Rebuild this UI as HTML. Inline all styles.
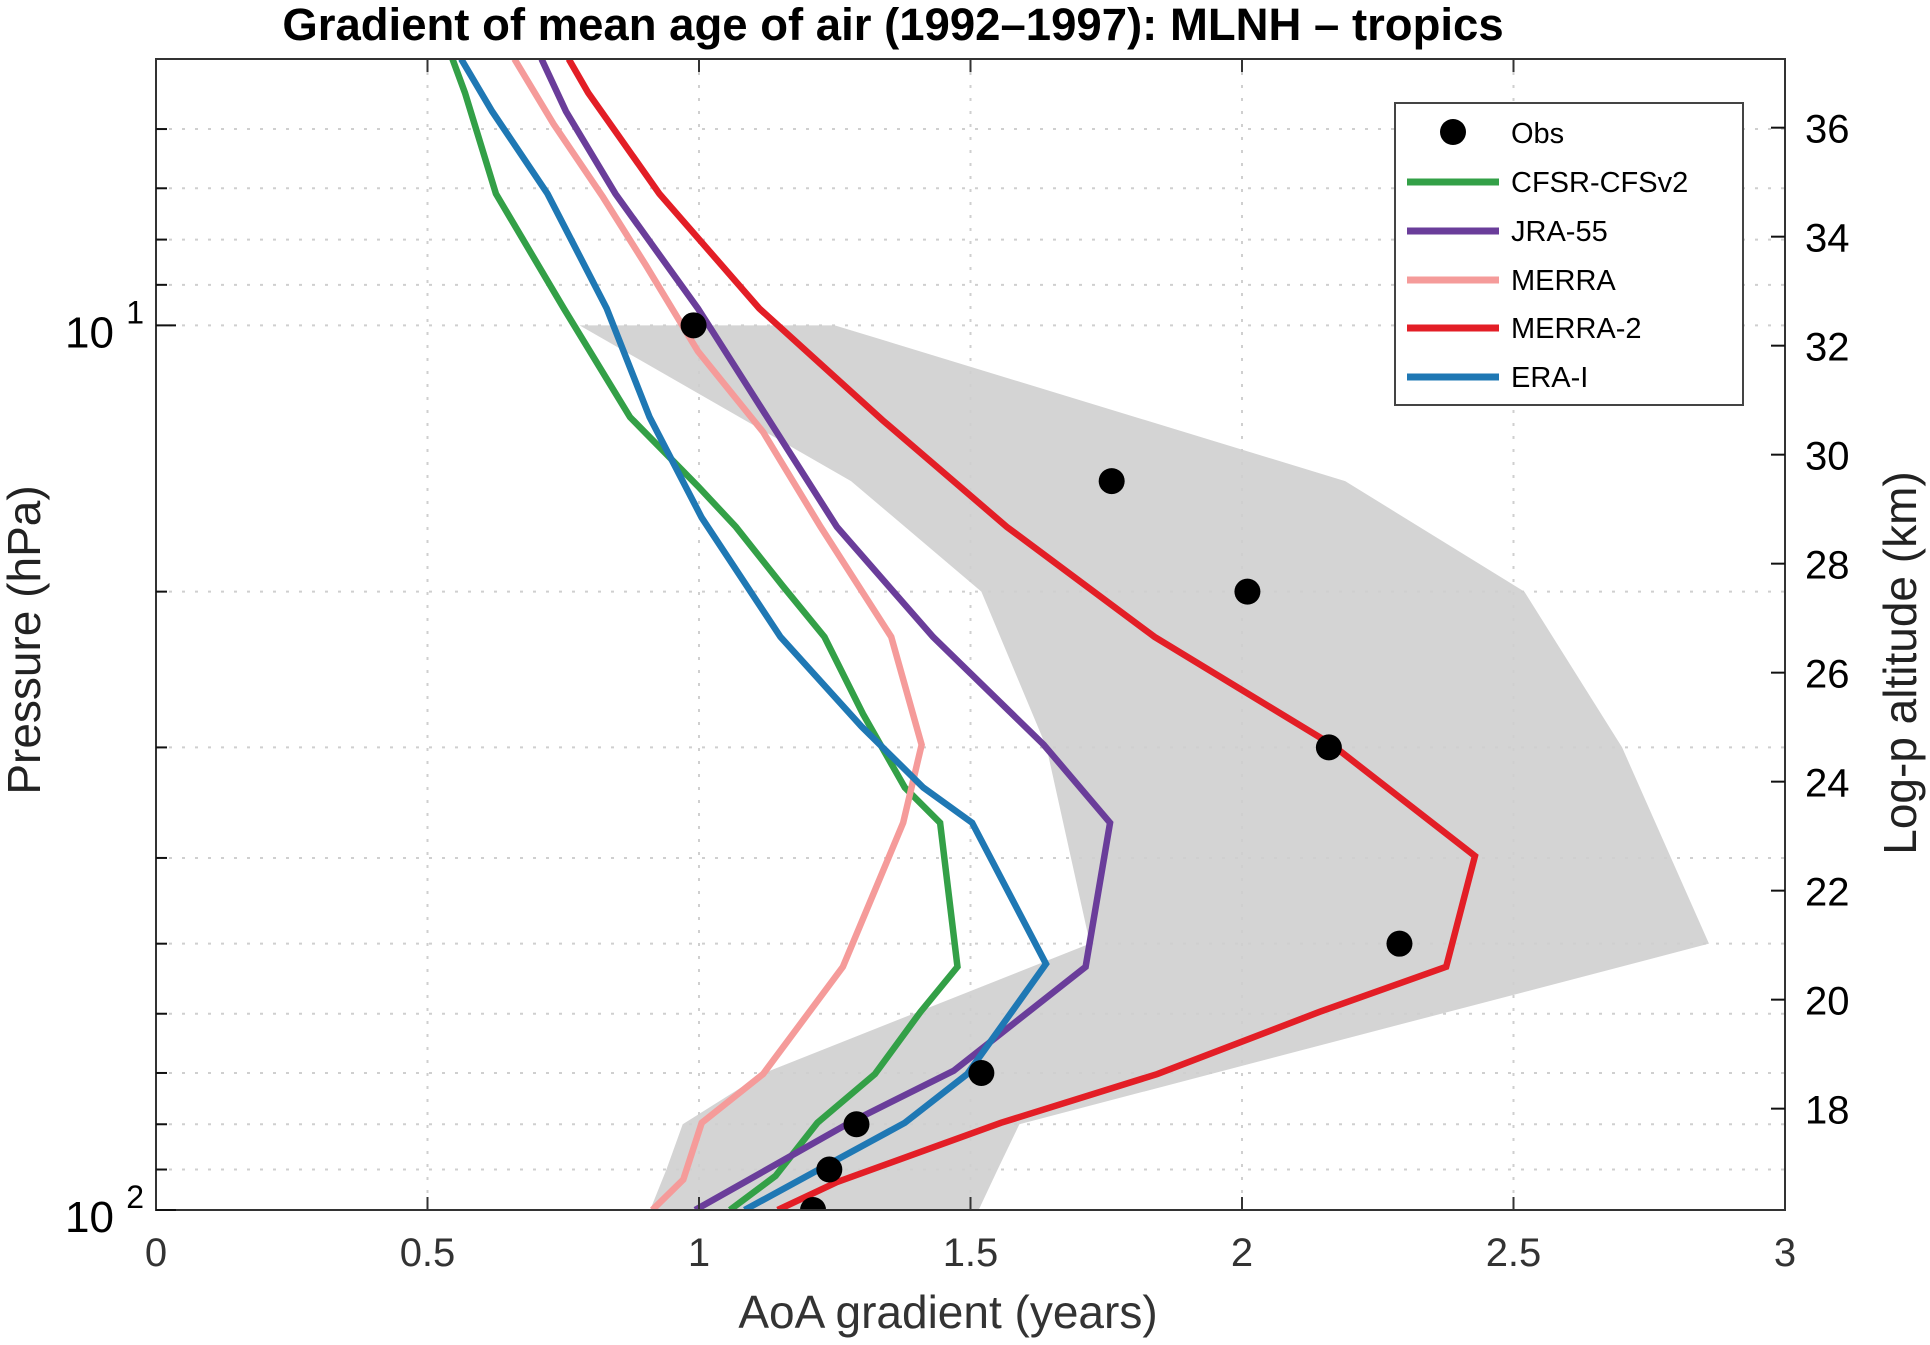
<!DOCTYPE html>
<html><head><meta charset="utf-8"><style>
html,body{margin:0;padding:0;background:#fff;}
svg{display:block;font-family:"Liberation Sans",Arial,sans-serif;}
</style></head><body>
<svg id="chart" width="1930" height="1345" viewBox="0 0 1930 1345" xmlns="http://www.w3.org/2000/svg">
<text x="893" y="40" text-anchor="middle" font-size="45.5" font-weight="bold">Gradient of mean age of air (1992–1997): MLNH – tropics</text>
<g id="plot"></g>
<text x="948" y="1328" text-anchor="middle" font-size="46" fill="#333">AoA gradient (years)</text>
<text transform="translate(40,640) rotate(-90)" text-anchor="middle" font-size="46" fill="#222">Pressure (hPa)</text>
<text transform="translate(1916,663) rotate(-90)" text-anchor="middle" font-size="46" fill="#222">Log-p altitude (km)</text>
<g>
<rect x="1395" y="103" width="348" height="302" fill="#fff" stroke="#444" stroke-width="2"/>
<circle cx="1453" cy="132" r="13" fill="#000"/>
<text x="1511" y="143" font-size="29">Obs</text>
<line x1="1407" y1="182" x2="1499" y2="182" stroke="#33a047" stroke-width="7"/>
<text x="1511" y="192" font-size="29">CFSR-CFSv2</text>
<line x1="1407" y1="231" x2="1499" y2="231" stroke="#6a3d9a" stroke-width="7"/>
<text x="1511" y="241" font-size="29">JRA-55</text>
<line x1="1407" y1="280" x2="1499" y2="280" stroke="#f59b9a" stroke-width="7"/>
<text x="1511" y="290" font-size="29">MERRA</text>
<line x1="1407" y1="328" x2="1499" y2="328" stroke="#e31e26" stroke-width="7"/>
<text x="1511" y="338" font-size="29">MERRA-2</text>
<line x1="1407" y1="377" x2="1499" y2="377" stroke="#1f78b4" stroke-width="7"/>
<text x="1511" y="387" font-size="29">ERA-I</text>
</g>
</svg>
<script>
const obsP=[10,15,20,30,50,70,80,90,100];
const obsX=[0.99,1.76,2.01,2.16,2.29,1.52,1.29,1.24,1.21];
const shadeLo=[0.78,1.28,1.52,1.64,1.72,1.12,0.97,0.94,0.91];
const shadeHi=[1.25,2.19,2.52,2.70,2.86,1.95,1.59,1.55,1.515];
const cfsrX=[0.546,0.569,0.626,0.751,0.873,0.998,1.068,1.154,1.231,1.302,1.379,1.444,1.476,1.408,1.324,1.218,1.141,1.057];
const cfsrP=[5,5.46,7.1,9.57,12.7,15.2,16.9,19.7,22.5,27.5,33.3,36.5,53.1,59.7,70.2,79.7,91.5,100];
const jraX=[0.710,0.755,0.846,0.998,1.129,1.254,1.431,1.635,1.757,1.712,1.469,1.277,1.084,0.993];
const jraP=[5,5.73,7.1,9.57,12.8,16.9,22.5,29.8,36.5,53.1,69.6,79.7,93,100];
const merraX=[0.660,0.732,0.823,0.902,0.998,1.118,1.224,1.354,1.410,1.376,1.265,1.118,1.005,0.971,0.914];
const merraP=[5,5.92,7.16,8.55,10.7,13.2,16.9,22.5,29.8,36.5,53.1,70.2,79.7,92.4,100];
const merra2X=[0.760,0.796,0.927,1.111,1.338,1.567,1.839,2.166,2.429,2.376,2.143,1.844,1.556,1.254,1.145];
const merra2P=[5,5.46,7.1,9.57,12.8,16.9,22.5,29.8,39.8,53.1,59.7,70.2,79.7,93,100];
const eraX=[0.562,0.619,0.721,0.830,0.909,1.005,1.150,1.299,1.413,1.503,1.639,1.576,1.494,1.379,1.231,1.084];
const eraP=[5,5.73,7.1,9.57,12.7,16.5,22.5,28.4,33.3,36.5,52.7,59.7,70.2,79.7,89.3,100];
const xTicks=[0,0.5,1,1.5,2,2.5,3];
const xTickLabels=["0","0.5","1","1.5","2","2.5","3"];
const pMinor=[6,7,8,9,10,20,30,40,50,60,70,80,90];
const kmTicks=[18,20,22,24,26,28,30,32,34,36];

const L=156,R=1785,T=59,B=1210,PT=5,PB=100;
const sx=v=>L+(v/3)*(R-L);
const sy=p=>T+(Math.log10(p)-Math.log10(PT))/(Math.log10(PB)-Math.log10(PT))*(B-T);
const NS='http://www.w3.org/2000/svg';
const plot=document.getElementById('plot');
function mk(tag,attrs,parent){const e=document.createElementNS(NS,tag);for(const k in attrs)e.setAttribute(k,attrs[k]);(parent||plot).appendChild(e);return e;}

const defs=mk('defs',{});
const cp=mk('clipPath',{id:'clip'},defs);
mk('rect',{x:L,y:T,width:R-L,height:B-T},cp);
const g=mk('g',{'clip-path':'url(#clip)'});

let pts=[];
for(let i=0;i<obsP.length;i++)pts.push(sx(shadeHi[i])+','+sy(obsP[i]));
for(let i=obsP.length-1;i>=0;i--)pts.push(sx(shadeLo[i])+','+sy(obsP[i]));
const sh=mk('polygon',{points:pts.join(' '),fill:'#d4d4d4'},g);



xTicks.forEach(v=>{if(v>0&&v<3){const l=mk('line',{x1:sx(v),x2:sx(v),y1:T,y2:B,stroke:'#cfcfcf','stroke-width':2,'stroke-dasharray':'3 10'},g);

}});
pMinor.forEach(p=>{const l=mk('line',{x1:L,x2:R,y1:sy(p),y2:sy(p),stroke:'#cfcfcf','stroke-width':2,'stroke-dasharray':'3 10'},g);

});

function series(xs,ps,color,name){const d=xs.map((x,i)=>(i?'L':'M')+sx(x)+','+sy(ps[i])).join('');
const e=mk('path',{d:d,fill:'none',stroke:color,'stroke-width':6.5,'stroke-linejoin':'miter'},g);

}
series(cfsrX,cfsrP,'#33a047','cfsr-line');
series(jraX,jraP,'#6a3d9a','jra55-line');
series(merraX,merraP,'#f59b9a','merra-line');
series(merra2X,merra2P,'#e31e26','merra2-line');
series(eraX,eraP,'#1f78b4','erai-line');

obsP.forEach((p,i)=>{const c=mk('circle',{cx:sx(obsX[i]),cy:sy(p),r:13,fill:'#000'},g);

});

const ax=mk('rect',{x:L,y:T,width:R-L,height:B-T,fill:'none',stroke:'#333','stroke-width':2});


xTicks.forEach((v,i)=>{
mk('line',{x1:sx(v),x2:sx(v),y1:B,y2:B-13,stroke:'#333','stroke-width':2});
mk('line',{x1:sx(v),x2:sx(v),y1:T,y2:T+13,stroke:'#333','stroke-width':2});
const t=mk('text',{x:sx(v),y:B+56,'text-anchor':'middle','font-size':40,fill:'#333'});
t.textContent=xTickLabels[i];

});
pMinor.forEach(p=>{const len=(p===10||p===100)?20:11;
mk('line',{x1:L,x2:L+len,y1:sy(p),y2:sy(p),stroke:'#111','stroke-width':2});});
mk('line',{x1:L,x2:L+20,y1:sy(100),y2:sy(100),stroke:'#111','stroke-width':2});
[[10,'1'],[100,'2']].forEach(([p,e])=>{const t=mk('text',{x:L-42,y:sy(p)+22,'text-anchor':'end','font-size':44});
t.textContent='10';


const s=mk('text',{x:L-12,y:sy(p)-2,'text-anchor':'end','font-size':32});s.textContent=e;});
kmTicks.forEach(k=>{const p=1000*Math.exp(-(k+0.093)/7.05);const y=sy(p);
mk('line',{x1:R,x2:R-14,y1:y,y2:y,stroke:'#111','stroke-width':2});
const t=mk('text',{x:R+20,y:y+15,'font-size':40});
t.textContent=String(k);

});
</script>
</body></html>
